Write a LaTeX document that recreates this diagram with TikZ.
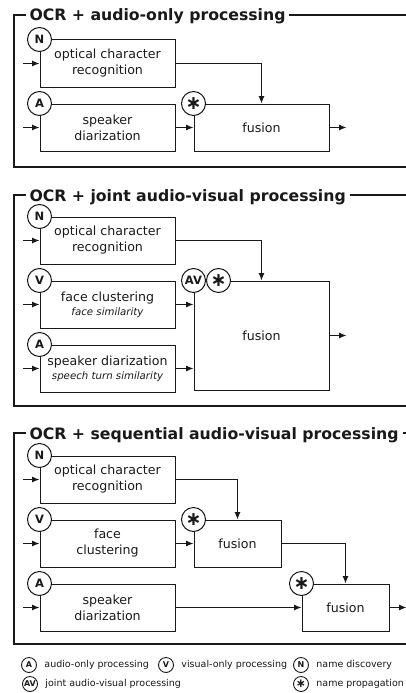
\documentclass[tikz,border=0pt]{standalone}
\usepackage{fontspec}
\setmainfont{DejaVu Sans}
\usetikzlibrary{positioning,arrows.meta}

\newcommand{\propsym}{{\fontsize{19}{19}\selectfont\bfseries ∗}}
\newcommand{\keysym}{{\fontsize{12}{12}\selectfont\bfseries ∗}}

\tikzset{
  blk/.style = {draw, shape = rectangle, minimum width = 135pt, minimum height = 47pt, align = center, inner sep = 1pt, font = \fontsize{12.6}{16}\selectfont},
  fus/.style = {blk, minimum width = 87pt},
  tag/.style = {draw, fill = white, shape = circle, minimum size = 24pt, inner sep = 0pt, font = \fontsize{11.5}{11.5}\selectfont\bfseries},
  key/.style = {draw, fill = white, shape = circle, minimum size = 15pt, inner sep = 0.5pt, line width = 0.9pt, font = \fontsize{8}{8}\selectfont\bfseries},
  keytxt/.style = {inner sep = 0pt, font = \fontsize{9.5}{11}\selectfont},
  ttl/.style = {fill = white, anchor = base west, inner xsep = 4pt, font = \fontsize{15.7}{18}\selectfont\bfseries},
  frm/.style = {draw, line width = 1.1pt},
  arr/.style = {-{Latex[length = 7.5pt, width = 6pt]}}
}

\begin{document}
\begin{tikzpicture}[x = 1pt, y = -1pt, line width = 1pt, color = black!90]
\useasboundingbox (0,0) rectangle (406,693);

% OCR + audio-only
\draw[frm] (14,15) rectangle (414,167);
\node[ttl] (t1) at (25,21) {OCR + audio-only processing};
\node[blk] (ocr1) at (107.5,63.5) {optical character\\recognition};
\node[blk, below = 16pt of ocr1] (spk1) {speaker\\diarization};
\node[blk, right = 18pt of spk1] (fus1) {fusion};
\node[tag] (n1) at (ocr1.north west) {N};
\node[tag] (a1) at (spk1.north west) {A};
\node[tag] (p1) at (fus1.north west) {\propsym};
\draw[arr] ([xshift = -17pt]ocr1.west) -- (ocr1.west);
\draw[arr] ([xshift = -17pt]spk1.west) -- (spk1.west);
\draw[arr] (ocr1.east) -| (fus1.north);
\draw[arr] (spk1.east) -- (fus1.west);
\draw[arr] (fus1.east) -- ([xshift = 17pt]fus1.east);

% OCR + joint audio-visual
\draw[frm] (14,195) rectangle (414,406);
\node[ttl] (t2) at (25,201) {OCR + joint audio-visual processing};
\node[blk] (ocr2) at (107.5,240.5) {optical character\\recognition};
\node[blk, below = 16pt of ocr2] (vis2) {face clustering\\[-2pt]{\fontsize{10.2}{12}\selectfont\itshape face similarity}};
\node[blk, below = 16pt of vis2] (spk2) {speaker diarization\\[-2pt]{\fontsize{10.2}{12}\selectfont\itshape speech turn similarity}};
\node[blk, minimum height = 109pt, right = 18pt of vis2.north east, anchor = north west] (fus2) {fusion};
\node[tag] (n2) at (ocr2.north west) {N};
\node[tag] (v2) at (vis2.north west) {V};
\node[tag] (a2) at (spk2.north west) {A};
\node[tag] (av2) at (fus2.north west) {AV};
\node[tag, right = 0pt of av2] (p2) {\propsym};
\draw[arr] ([xshift = -17pt]ocr2.west) -- (ocr2.west);
\draw[arr] ([xshift = -17pt]vis2.west) -- (vis2.west);
\draw[arr] ([xshift = -17pt]spk2.west) -- (spk2.west);
\draw[arr] (ocr2.east) -| (fus2.north);
\draw[arr] (vis2.east) -- (vis2.east -| fus2.west);
\draw[arr] (spk2.east) -- (spk2.east -| fus2.west);
\draw[arr] (fus2.east) -- ([xshift = 17pt]fus2.east);

% OCR + sequential audio-visual
\draw[frm] (14,433) rectangle (414,644);
\node[ttl] (t3) at (25,439) {OCR + sequential audio-visual processing};
\node[blk] (ocr3) at (107.5,479.5) {optical character\\recognition};
\node[blk, below = 16pt of ocr3] (vis3) {face\\clustering};
\node[blk, below = 16pt of vis3] (spk3) {speaker\\diarization};
\node[fus, right = 18pt of vis3] (fusA) {fusion};
\node[fus, anchor = west, xshift = 20pt] (fusB) at (spk3 -| fusA.east) {fusion};
\node[tag] (n3) at (ocr3.north west) {N};
\node[tag] (v3) at (vis3.north west) {V};
\node[tag] (a3) at (spk3.north west) {A};
\node[tag] (pA) at (fusA.north west) {\propsym};
\node[tag] (pB) at (fusB.north west) {\propsym};
\draw[arr] ([xshift = -17pt]ocr3.west) -- (ocr3.west);
\draw[arr] ([xshift = -17pt]vis3.west) -- (vis3.west);
\draw[arr] ([xshift = -17pt]spk3.west) -- (spk3.west);
\draw[arr] (ocr3.east) -| (fusA.north);
\draw[arr] (vis3.east) -- (fusA.west);
\draw[arr] (fusA.east) -| (fusB.north);
\draw[arr] (spk3.east) -- (fusB.west);
\draw[arr] (fusB.east) -- ([xshift = 17pt]fusB.east);

% legend
\node[key] (kA) at (29,665) {A};
\node[keytxt, right = 7pt of kA] (lA) {audio-only processing};
\node[key] (kV) at (166,665) {V};
\node[keytxt, right = 7pt of kV] (lV) {visual-only processing};
\node[key] (kN) at (301,665) {N};
\node[keytxt, right = 7pt of kN] (lN) {name discovery};
\node[key] (kAV) at (30,684) {AV};
\node[keytxt, right = 7pt of kAV] (lAV) {joint audio-visual processing};
\node[key] (kP) at (301,684) {\keysym};
\node[keytxt, right = 7pt of kP] (lP) {name propagation};
\end{tikzpicture}
\end{document}
